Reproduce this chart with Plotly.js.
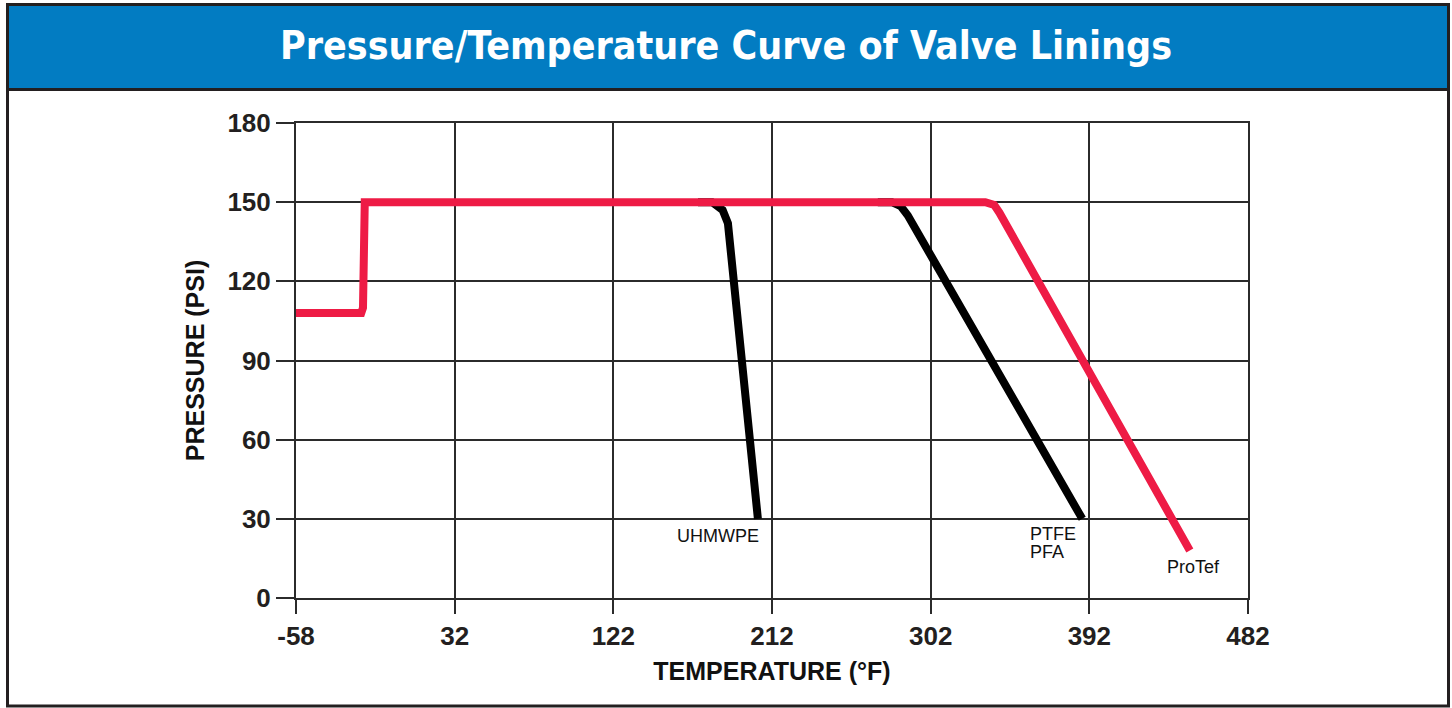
<!DOCTYPE html>
<html>
<head>
<meta charset="utf-8">
<script src="https://cdn.plot.ly/plotly-3.0.1.min.js"></script>
<style>
  html, body { margin: 0; padding: 0; background: #fff; }
  #chart { width: 1452px; height: 708px; }
</style>
</head>
<body>
<div id="chart"></div>
<script>
// ---- data ----
const xTicks = [-58, 32, 122, 212, 302, 392, 482];
const yTicks = [0, 30, 60, 90, 120, 150, 180];

const protefTemp = [-58, -21, -20, -20, -19, 333, 338, 341, 449];
const protefPsi  = [108, 108, 110, 148, 150, 150, 149, 146, 18];

const ptfeTemp = [272, 280, 285, 289, 388];
const ptfePsi  = [150, 150, 148.5, 145, 30];

const uhmwpeTemp = [170, 178, 184, 187, 204];
const uhmwpePsi  = [150, 150, 147, 142, 30];

const labelNames  = ["UHMWPE", "PTFE", "PFA", "ProTef"];
const labelTemp   = [206, 357, 357, 435];
const labelPsi    = [23.5, 24.2, 17.4, 11.6];
const labelAnchor = ["right", "left", "left", "left"];

// ---- layout geometry (pixels) ----
const W = 1452, H = 708;
const L = 296, R = 1248, T = 123, B = 598;
const pw = R - L, ph = B - T;
const px = v => (v - L) / pw;
const py = v => (B - v) / ph;

const ink = '#231f20';
const red = '#ee1b45';
const blue = '#027cc2';

const traces = [
  { x: uhmwpeTemp, y: uhmwpePsi, type: 'scatter', mode: 'lines',
    line: { color: '#000', width: 8 }, hoverinfo: 'skip', name: 'UHMWPE' },
  { x: ptfeTemp, y: ptfePsi, type: 'scatter', mode: 'lines',
    line: { color: '#000', width: 8 }, hoverinfo: 'skip', name: 'PTFE/PFA' },
  { x: protefTemp, y: protefPsi, type: 'scatter', mode: 'lines',
    line: { color: red, width: 8 }, hoverinfo: 'skip', name: 'ProTef' }
];

const annotations = labelNames.map((t, i) => ({
  x: labelTemp[i], y: labelPsi[i], xref: 'x', yref: 'y',
  text: t, showarrow: false, xanchor: labelAnchor[i], yanchor: 'middle',
  font: { family: 'Liberation Sans, Arial, sans-serif', size: 18, color: '#111' }
}));

const tickFont = { family: 'Liberation Sans, Arial, sans-serif', size: 26, color: ink, weight: 'bold' };
const titleFont = { family: 'Liberation Sans, Arial, sans-serif', size: 25, color: '#111', weight: 'bold' };

const layout = {
  width: W, height: H,
  margin: { l: L, r: W - R, t: T, b: H - B, pad: 0 },
  paper_bgcolor: '#fff', plot_bgcolor: '#fff',
  showlegend: false,
  title: {
    text: 'Pressure/Temperature Curve of Valve Linings',
    x: 0.5, xref: 'container', xanchor: 'center',
    y: 1 - 45 / H, yref: 'container', yanchor: 'middle',
    font: { family: 'DejaVu Sans Condensed, Liberation Sans Narrow, Arial Narrow, sans-serif',
            size: 39, color: '#fff', weight: 'bold' }
  },
  xaxis: {
    range: [-58, 482], tickvals: xTicks, ticktext: xTicks.map(String),
    showgrid: true, gridcolor: '#2b2b2b', gridwidth: 2,
    zeroline: false, showline: true, mirror: true, linecolor: '#2b2b2b', linewidth: 2,
    ticks: 'outside', ticklen: 14, tickwidth: 2, tickcolor: '#2b2b2b',
    tickfont: tickFont, fixedrange: true,
    title: { text: 'TEMPERATURE (°F)', font: titleFont, standoff: 12 }
  },
  yaxis: {
    range: [0, 180], tickvals: yTicks, ticktext: yTicks.map(String),
    showgrid: true, gridcolor: '#2b2b2b', gridwidth: 2,
    zeroline: false, showline: true, mirror: true, linecolor: '#2b2b2b', linewidth: 2,
    ticks: 'outside', ticklen: 18, tickwidth: 2, tickcolor: '#2b2b2b',
    tickfont: tickFont, fixedrange: true,
    title: { text: 'PRESSURE (PSI)', font: titleFont, standoff: 16 }
  },
  annotations: annotations,
  shapes: [
    // blue banner
    { type: 'rect', xref: 'paper', yref: 'paper', layer: 'below',
      x0: px(7.5), x1: px(1448.5), y0: py(89.5), y1: py(4.5),
      fillcolor: blue, line: { color: ink, width: 3 } },
    // outer frame
    { type: 'rect', xref: 'paper', yref: 'paper', layer: 'below',
      x0: px(7.5), x1: px(1448.5), y0: py(706), y1: py(4.5),
      fillcolor: 'rgba(0,0,0,0)', line: { color: ink, width: 3 } }
  ]
};

Plotly.newPlot('chart', traces, layout, { displayModeBar: false, staticPlot: true });
</script>
</body>
</html>
